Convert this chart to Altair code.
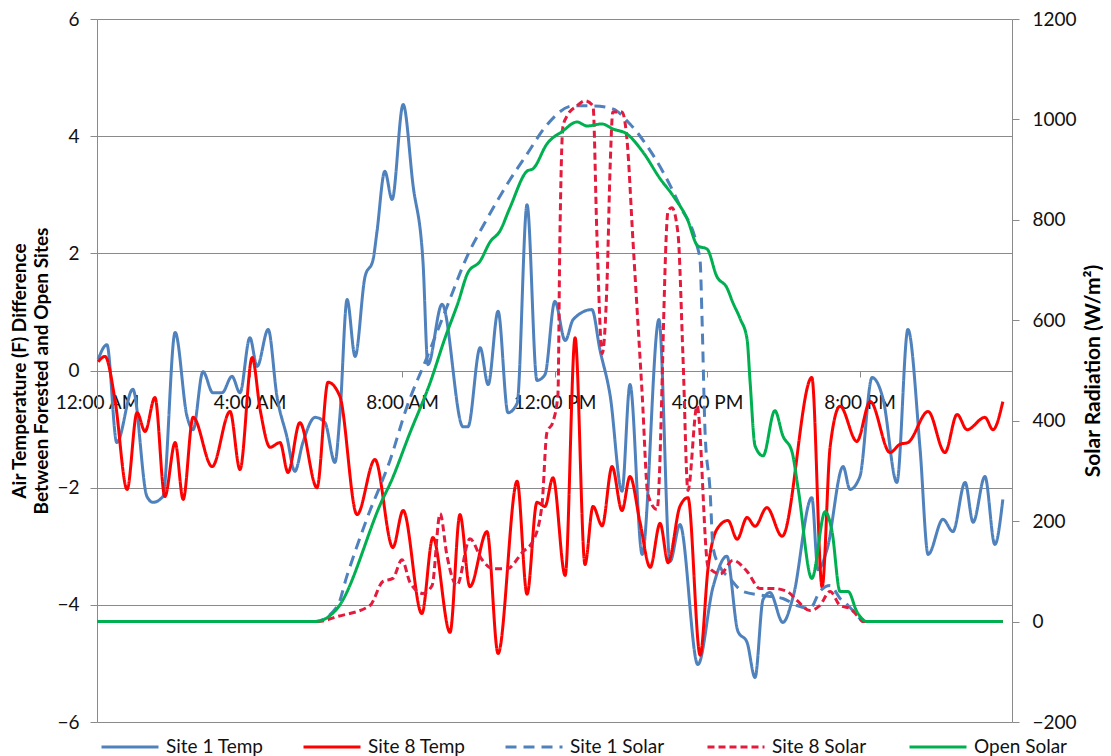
import altair as alt
import pandas as pd

SERIES = ["Site 1 Temp", "Site 8 Temp", "Site 1 Solar", "Site 8 Solar", "Open Solar"]
COLORS = ["#4F81BD", "#FF0000", "#4F81BD", "#E41B3D", "#00B050"]
DASHES = [[1, 0], [1, 0], [11, 7], [7, 4], [1, 0]]

X_TICKS = [0, 4, 8, 12, 16, 20]
X_LABELS = ["12:00 AM", "4:00 AM", "8:00 AM", "12:00 PM", "4:00 PM", "8:00 PM"]
TEMP_TICKS = [-6, -4, -2, 0, 2, 4, 6]
SOLAR_TICKS = [-200, 0, 200, 400, 600, 800, 1000, 1200]

# Site 1 air temperature difference (F), hours since midnight
T1_HOURS = [0.03, 0.26, 0.52, 0.94, 1.31, 1.47, 1.73, 2.05, 2.36, 2.52, 2.78, 3.04, 3.28,
            3.54, 3.75, 4.01, 4.20, 4.49, 4.72, 4.98, 5.19, 5.40, 5.72, 5.98, 6.24, 6.37,
            6.56, 6.77, 7.03, 7.24, 7.34, 7.55, 7.74, 8.03, 8.29, 8.55, 8.68, 9.05, 9.60,
            9.73, 10.05, 10.26, 10.52, 10.78, 11.02, 11.28, 11.54, 11.75, 12.01, 12.28,
            12.49, 12.98, 13.19, 13.46, 13.77, 13.98, 14.30, 14.74, 15.03, 15.29, 15.76,
            16.16, 16.52, 16.81, 17.05, 17.26, 17.47, 17.65, 17.99, 18.26, 18.75, 18.91,
            19.15, 19.57, 19.75, 20.01, 20.33, 20.62, 20.98, 21.27, 21.59, 21.80, 22.19,
            22.45, 22.77, 22.98, 23.29, 23.55, 23.76]
T1_VALUES = [0.19, 0.44, -1.23, -0.32, -2.15, -2.25, -2.15, 0.65, -0.78, -1.01, -0.02, -0.38,
             -0.38, -0.10, -0.38, 0.56, 0.07, 0.70, -0.44, -1.13, -1.72, -1.23, -0.80, -0.89,
             -1.57, -0.78, 1.21, 0.24, 1.60, 1.89, 2.35, 3.40, 2.92, 4.54, 3.16, 1.86, 0.10,
             1.13, -0.96, -0.96, 0.39, -0.24, 1.01, -0.72, -0.56, 2.83, -0.17, -0.07, 1.18,
             0.51, 0.87, 1.04, 0.36, -0.43, -2.06, -0.24, -3.14, 0.87, -3.26, -2.63, -5.02,
             -3.69, -3.17, -4.45, -4.64, -5.24, -3.91, -3.79, -4.30, -3.86, -2.17, -3.40,
             -3.05, -1.64, -2.03, -1.81, -0.12, -0.49, -1.91, 0.70, -1.35, -3.14, -2.54,
             -2.75, -1.91, -2.59, -1.81, -2.97, -2.20]

# Site 8 air temperature difference (F)
T8_HOURS = [0.03, 0.21, 0.47, 0.79, 1.05, 1.26, 1.52, 1.78, 2.05, 2.26, 2.52, 3.02, 3.49,
            3.75, 4.07, 4.28, 4.54, 4.80, 5.01, 5.32, 5.77, 6.06, 6.37, 6.82, 7.29, 7.76,
            8.03, 8.52, 8.81, 9.26, 9.52, 9.78, 10.23, 10.52, 11.02, 11.28, 11.54, 11.75,
            11.96, 12.28, 12.54, 12.80, 13.01, 13.25, 13.51, 13.77, 13.98, 14.24, 14.51,
            14.77, 14.98, 15.29, 15.50, 15.82, 16.03, 16.26, 16.55, 16.79, 17.05, 17.26,
            17.57, 17.97, 18.75, 19.02, 19.23, 19.49, 19.93, 20.28, 20.80, 21.06, 21.27,
            21.80, 22.24, 22.56, 22.82, 23.29, 23.50, 23.76]
T8_VALUES = [0.15, 0.24, -0.49, -2.03, -0.72, -1.04, -0.46, -2.15, -1.23, -2.20, -0.80, -1.64,
             -0.70, -1.69, 0.22, -0.67, -1.31, -1.23, -1.74, -0.89, -2.00, -0.20, -0.44,
             -2.46, -1.52, -3.02, -2.39, -4.15, -2.85, -4.47, -2.46, -3.69, -2.75, -4.83,
             -1.89, -3.82, -2.25, -2.32, -1.83, -3.50, 0.56, -3.31, -2.32, -2.65, -1.64,
             -2.39, -1.81, -2.58, -3.36, -2.61, -3.28, -2.32, -2.17, -4.86, -3.36, -2.71,
             -2.56, -2.88, -2.51, -2.66, -2.34, -2.83, -0.12, -3.70, -1.30, -0.61, -1.21,
             -0.53, -1.40, -1.26, -1.23, -0.70, -1.40, -0.75, -1.01, -0.80, -1.01, -0.53]

# Site 1 solar radiation (W/m2)
S1_HOURS = [0.0, 5.72, 6.30, 6.56, 7.08, 7.69, 8.13, 8.66, 9.18, 9.70, 10.23, 10.75, 11.28,
            11.80, 12.49, 13.01, 13.53, 13.98, 14.43, 14.85, 15.29, 15.74, 15.82, 15.87,
            15.95, 16.08, 16.16, 16.34, 16.60, 16.94, 17.47, 17.99, 18.36, 18.70, 18.96,
            19.23, 19.49, 19.70, 20.01, 20.09, 23.76]
S1_VALUES = [0, 0, 30, 92, 205, 322, 428, 527, 627, 726, 802, 870, 931, 989, 1027, 1027, 1021,
             991, 947, 895, 828, 748, 718, 603, 376, 261, 147, 109, 86, 60, 52, 46, 32, 26,
             60, 72, 46, 32, 6, 0, 0]

# Site 8 solar radiation (W/m2)
S8_HOURS = [0.0, 5.80, 6.30, 7.16, 7.50, 7.76, 8.00, 8.21, 8.55, 8.79, 9.00, 9.18, 9.44,
            9.78, 10.10, 10.39, 10.75, 11.17, 11.44, 11.67, 11.80, 11.96, 12.09, 12.14, 12.22,
            12.33, 12.59, 12.80, 13.01, 13.11, 13.25, 13.38, 13.46, 13.53, 13.77, 13.90,
            14.06, 14.30, 14.45, 14.69, 14.98, 15.08, 15.24, 15.37, 15.50, 15.74, 16.03,
            16.35, 16.68, 17.05, 17.39, 17.73, 18.10, 18.36, 18.70, 18.96, 19.23, 19.49,
            19.75, 20.01, 20.09, 23.76]
S8_VALUES = [0, 0, 10, 32, 80, 86, 123, 78, 56, 72, 215, 131, 72, 165, 123, 105, 105, 139,
             161, 231, 376, 398, 452, 756, 985, 1007, 1027, 1037, 1027, 776, 534, 681, 907,
             1015, 1015, 961, 756, 452, 253, 223, 818, 824, 772, 527, 261, 430, 109, 95, 122,
             100, 66, 66, 60, 42, 22, 32, 60, 32, 26, 6, 0, 0]

# Open site solar radiation (W/m2)
SO_HOURS = [0.0, 5.72, 6.30, 7.50, 7.69, 8.21, 8.73, 9.13, 9.47, 9.73, 10.05, 10.31, 10.57,
            10.83, 11.28, 11.44, 11.80, 12.22, 12.59, 12.85, 13.25, 13.53, 13.90, 14.32,
            14.77, 15.11, 15.48, 15.76, 16.00, 16.26, 16.52, 16.68, 16.87, 17.05, 17.13,
            17.26, 17.47, 17.78, 17.99, 18.23, 18.39, 18.75, 19.10, 19.28, 19.49, 19.70,
            19.93, 20.20, 23.76]
SO_VALUES = [0, 0, 26, 245, 275, 376, 474, 565, 635, 695, 718, 756, 778, 824, 897, 902, 951,
             977, 995, 987, 991, 981, 971, 935, 882, 848, 802, 748, 742, 687, 665, 635, 603,
             563, 478, 350, 330, 420, 370, 338, 265, 86, 219, 179, 60, 60, 20, 0, 0]


def frame(name, hours, values):
    return pd.DataFrame({"series": name, "hour": hours, "value": values})


FONT = "Lato"
GRID = "#8A8A8A"

label_expr = "[" + ",".join("'" + s + "'" for s in X_LABELS) + "][round(datum.value / 4)]"

x_enc = alt.X(
    "hour:Q",
    scale=alt.Scale(domain=[0, 24], nice=False),
    axis=alt.Axis(
        values=X_TICKS, labelExpr=label_expr, offset=-351, domain=False, grid=False,
        ticks=True, tickSize=6, tickColor=GRID, labelFontSize=19, labelFont=FONT,
        labelColor="#111111", labelBaseline="alphabetic", labelPadding=31,
        labelFlush=False, labelOverlap=False, title=None,
    ),
)


def legend_def():
    return alt.Legend(
        title=None, orient="none", legendX=3, legendY=698, direction="horizontal",
        columns=5, gridAlign="all", columnPadding=33, symbolType="stroke",
        symbolSize=3249, symbolStrokeWidth=3, labelFontSize=19, labelFont=FONT,
        labelColor="#111111", labelOffset=6, padding=0,
    )


color_enc = alt.Color(
    "series:N", scale=alt.Scale(domain=SERIES, range=COLORS), legend=legend_def()
)
dash_enc = alt.StrokeDash(
    "series:N", scale=alt.Scale(domain=SERIES, range=DASHES), legend=legend_def()
)

temp_axis = alt.Axis(
    values=TEMP_TICKS, grid=True, gridColor=GRID, gridWidth=1, domainColor=GRID,
    tickColor=GRID, tickSize=7, labelFontSize=19, labelFont=FONT, labelColor="#111111",
    labelPadding=11, labelFlush=False,
    title=["Air Temperature  (F) Difference", "Between Forested and Open Sites"],
    titleFont=FONT, titleFontSize=19, titleFontWeight="bold", titleColor="#000000",
    titleAngle=270, titleX=-72, titleY=351.5, titleAlign="center",
    titleBaseline="alphabetic", titleLineHeight=22,
)
solar_axis = alt.Axis(
    orient="right", values=SOLAR_TICKS, format="d", grid=False, domainColor=GRID,
    tickColor=GRID, tickSize=7, labelFontSize=19, labelFont=FONT, labelColor="#111111",
    labelPadding=13, labelFlush=False, title="Solar Radiation (W/m\u00b2)", titleFont=FONT,
    titleFontSize=21, titleFontWeight="bold", titleColor="#000000", titleAngle=270,
    titleX=87, titleY=351.5, titleAlign="center", titleBaseline="alphabetic",
)

temp_y = alt.Y("value:Q", scale=alt.Scale(domain=[-6, 6], nice=False), axis=temp_axis)
solar_y = alt.Y("value:Q", scale=alt.Scale(domain=[-200, 1200], nice=False), axis=solar_axis)


def line(df, y, width=3):
    return alt.Chart(df).mark_line(interpolate="monotone", strokeWidth=width).encode(
        x=x_enc, y=y, color=color_enc, strokeDash=dash_enc
    )


temps = alt.layer(
    line(frame(SERIES[0], T1_HOURS, T1_VALUES), temp_y),
    line(frame(SERIES[1], T8_HOURS, T8_VALUES), temp_y),
)
solars = alt.layer(
    line(frame(SERIES[2], S1_HOURS, S1_VALUES), solar_y),
    line(frame(SERIES[3], S8_HOURS, S8_VALUES), solar_y),
    line(frame(SERIES[4], SO_HOURS, SO_VALUES), solar_y),
)

chart = (
    alt.layer(temps, solars)
    .resolve_scale(y="independent")
    .properties(
        width=915, height=703,
        padding={"left": 89, "top": 11, "right": 91, "bottom": 34},
        autosize=alt.AutoSizeParams(type="none"),
        background="white",
    )
    .configure_view(stroke=None)
)

chart.save("out.html", embed_options={"renderer": "svg", "actions": False})
